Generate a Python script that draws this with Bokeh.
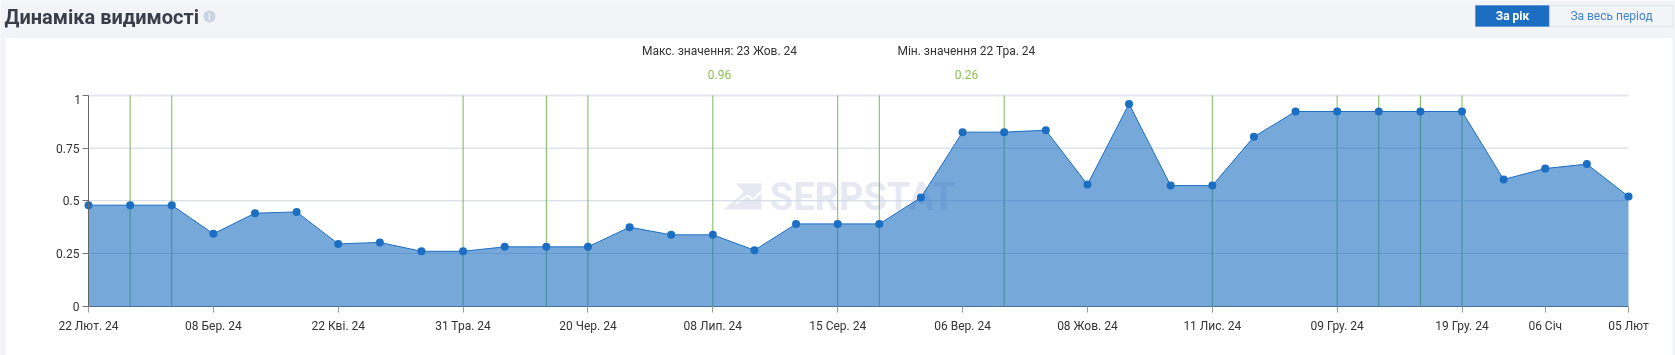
from bokeh.plotting import figure
from bokeh.models import Label, BoxAnnotation, FixedTicker, Range1d
from bokeh.embed import file_html
from bokeh.resources import INLINE

values = [.479,.479,.479,.343,.441,.447,.295,.302,.26,.26,.281,.281,.281,.3745,.338,.338,.265,.39,.39,.39,
          .515,.826,.826,.835,.577,.96,.572,.572,.804,.924,.924,.924,.924,.924,.601,.653,.674,.52]
tick_index = [0,3,6,9,12,15,18,21,24,27,30,33,35,37]
tick_labels = ["22 Лют. 24","08 Бер. 24","22 Кві. 24","31 Тра. 24","20 Чер. 24","08 Лип. 24","15 Сер. 24",
               "06 Вер. 24","08 Жов. 24","11 Лис. 24","09 Гру. 24","19 Гру. 24","06 Січ","05 Лют"]
green_index = [1,2,9,11,12,15,18,19,22,27,30,31,32,33]
y_ticks = [0,.25,.5,.75,1]
y_labels = {0:"0",0.25:"0.25",0.5:"0.5",0.75:"0.75",1:""}
grid_levels = [.25,.5,.75]

W,H = 1675,355
PL,PR,PT,PB = 88,1628,95,305.5
PXU = (PR-PL)/37
PYU = PB-PT
def X(px): return (px-PL)/PXU
def Y(py): return (PB-py)/PYU
xs = list(range(len(values)))
p = figure(width=W,height=H,output_backend="svg",toolbar_location=None,
           x_range=Range1d(X(0),X(W)),y_range=Range1d(Y(H),Y(0)),
           min_border_left=0,min_border_right=0,min_border_top=0,min_border_bottom=0,
           background_fill_color="#f3f4f8",border_fill_color="#f3f4f8",outline_line_color=None,
           styles={"position":"fixed","left":"0","top":"0"})

p.add_layout(BoxAnnotation(left=X(4),right=X(1672.5),bottom=Y(357),top=Y(37),fill_color="white",fill_alpha=1,
                           line_color="#dfe3ee",line_width=1.5,level="underlay"))

def txt(s,px,py,size="12px",color="#333333",align="center",style="normal",level="annotation"):
    p.add_layout(Label(x=X(px),y=Y(py),text=s,text_font="Roboto",text_font_size=size,text_color=color,
                       text_align=align,text_baseline="middle",text_font_style=style,level=level))

WM = "#e6e9f2"
txt("SERPSTAT",862,196,"38px",WM,style="bold",level="underlay")
logo_x = [735,761,761,723,740,743]
logo_y = [183,183,209,209,195,191]
p.patch([X(v) for v in logo_x],[Y(v) for v in logo_y],fill_color=WM,line_color=None)
zig_x = [735,747,752,761]
zig_y = [203,195,199,191]
p.line([X(v) for v in zig_x],[Y(v) for v in zig_y],line_color="white",line_width=2)

p.xgrid.visible=False
p.ygrid.visible=False
p.segment([0]*len(grid_levels),grid_levels,[37]*len(grid_levels),grid_levels,line_color="#ccd6e3",line_width=1)
p.segment([0],[1],[37],[1],line_color="#e3e7f1",line_width=2)
p.segment(green_index,[0]*len(green_index),green_index,[1]*len(green_index),line_color="#7cb85c",line_width=1)
p.varea(xs,[0]*len(xs),values,fill_color="#1b6ec2",fill_alpha=.6)
p.line(xs,values,line_color="#1b6ec2",line_width=1)
p.scatter(xs,values,size=8,fill_color="#1b6ec2",line_color="#1b6ec2",line_width=0)

xa=p.xaxis[0]
xa.fixed_location=0
xa.ticker=FixedTicker(ticks=tick_index)
xa.major_label_overrides=dict(zip(tick_index,tick_labels))
xa.bounds=(0,37)
xa.axis_line_color="#4f7096"; xa.major_tick_line_color="#999999"; xa.minor_tick_line_color=None
xa.major_tick_in=0; xa.major_tick_out=6; xa.major_label_standoff=7
xa.major_label_text_font="Roboto"; xa.major_label_text_font_size="12px"; xa.major_label_text_color="#333333"
ya=p.yaxis[0]
ya.fixed_location=0
ya.bounds=(0,1)
ya.ticker=FixedTicker(ticks=y_ticks)
ya.major_label_overrides=y_labels
ya.axis_line_color="#666666"; ya.major_tick_line_color="#777777"; ya.minor_tick_line_color=None
ya.major_tick_in=0; ya.major_tick_out=6; ya.major_label_standoff=3
ya.major_label_text_font="Roboto"; ya.major_label_text_font_size="12px"; ya.major_label_text_color="#333333"

txt("1",77,99)
txt("Макс. значення: 23 Жов. 24",719,50)
txt("0.96",719,74,color="#8cc152")
txt("Мін. значення 22 Тра. 24",966,50)
txt("0.26",966,74,color="#8cc152")
txt("Динаміка видимості",4,16,"20px","#3a3d4a",align="left",style="bold")
p.scatter([X(209)],[Y(16)],size=12,fill_color="#c9d3e2",line_color=None)
txt("i",209,16,"9px","white",style="bold")
p.add_layout(BoxAnnotation(left=X(1475),right=X(1549),bottom=Y(26),top=Y(5),fill_color="#1b6ec2",fill_alpha=1,line_color="#1b6ec2"))
p.add_layout(BoxAnnotation(left=X(1549),right=X(1672.5),bottom=Y(26),top=Y(5),fill_color="#f3f4f8",fill_alpha=1,line_color="#c5d1e6",line_width=1.5))
txt("За рік",1512,15.5,"12px","white",style="bold")
txt("За весь період",1611,15.5,"12px","#3f83cc")

open("out.html","w").write(file_html(p,INLINE))
